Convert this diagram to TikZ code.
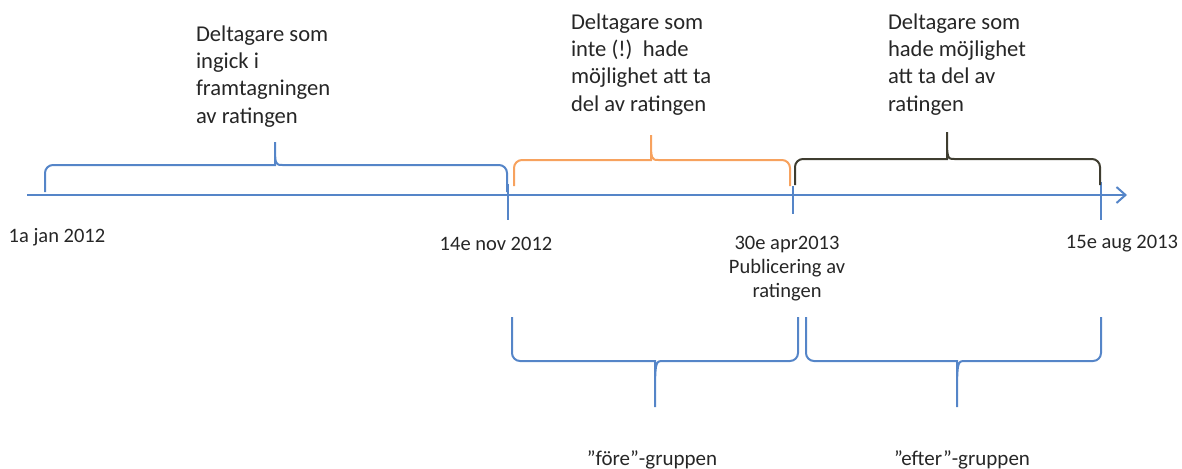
\documentclass[tikz,border=0pt]{standalone}
\usepackage{fontspec}
\setmainfont{Carlito}
\usetikzlibrary{arrows.meta}

\definecolor{lineblue}{HTML}{5585C8}
\definecolor{braceorange}{HTML}{F7A25E}
\definecolor{bracedark}{HTML}{3F3D30}
\definecolor{textgray}{HTML}{262626}

% brace: colour, left x, right x, tip x, end y, bar y, tip y
\newcommand\timebrace[7]{%
  \draw[#1] (#2,#5) [rounded corners=4pt] |- (#4-8,#6) [sharp corners]
    .. controls (#4,#6) .. (#4,#7) .. controls (#4,#6) .. (#4+8,#6)
    [rounded corners=4pt] -| (#3,#5);}

\begin{document}
\begin{tikzpicture}[x=0.5pt, y=-0.5pt, line width=1pt,
  info/.style={anchor=base west, align=left, inner sep=0pt, text=textgray,
    font=\fontsize{11.3}{13.6}\selectfont},
  date/.style={anchor=base, align=center, inner sep=0pt, text=textgray,
    font=\fontsize{10.25}{12}\selectfont},
  group/.style={anchor=base, inner sep=0pt, text=textgray,
    font=\fontsize{10.5}{12.6}\selectfont}]

\useasboundingbox (0,0) rectangle (1182,468);

% time axis
\coordinate (start) at (27,195);
\coordinate (end) at (1127,195);
\draw[lineblue, -{Straight Barb[length=4.5pt,width=8pt]}] (start) -- (end);

% ticks
\coordinate (nov top) at (508,184);
\coordinate (nov bot) at (508,220);
\coordinate (apr top) at (793,186);
\coordinate (apr bot) at (793,214);
\coordinate (aug top) at (1101,182);
\coordinate (aug bot) at (1101,220);
\foreach \t in {nov,apr,aug}
  \draw[lineblue] (\t\space top) -- (\t\space bot);

% braces above the axis
\timebrace{lineblue}{45}{507}{275}{192}{165}{142}
\timebrace{braceorange}{514}{790}{651}{186}{160}{135}
\timebrace{bracedark}{795}{1100}{947}{185}{159}{132}

% braces below the dates
\timebrace{lineblue}{512}{798}{655}{317}{361}{407}
\timebrace{lineblue}{806}{1101}{957}{317}{361}{407}

% texts (placed at the baseline of their last line)
\node[info] (ingick) at (195,123) {Deltagare som\\ingick i\\framtagningen\\av ratingen};
\node[info] (inte) at (570,111) {Deltagare som\\inte (!)\ \ hade\\möjlighet att ta\\del av ratingen};
\node[info] (hade) at (887,111) {Deltagare som\\hade möjlighet\\att ta del av\\ratingen};

\node[date] (jan) at (57,242) {1a jan 2012};
\node[date] (nov) at (496,250) {14e nov 2012};
\node[date] (apr) at (787,297) {30e apr2013\\Publicering av\\ratingen};
\node[date] (aug) at (1122,248) {15e aug 2013};

\node[group] (fore) at (652,465) {”före”-gruppen};
\node[group] (efter) at (962,465) {”efter”-gruppen};
\end{tikzpicture}
\end{document}
